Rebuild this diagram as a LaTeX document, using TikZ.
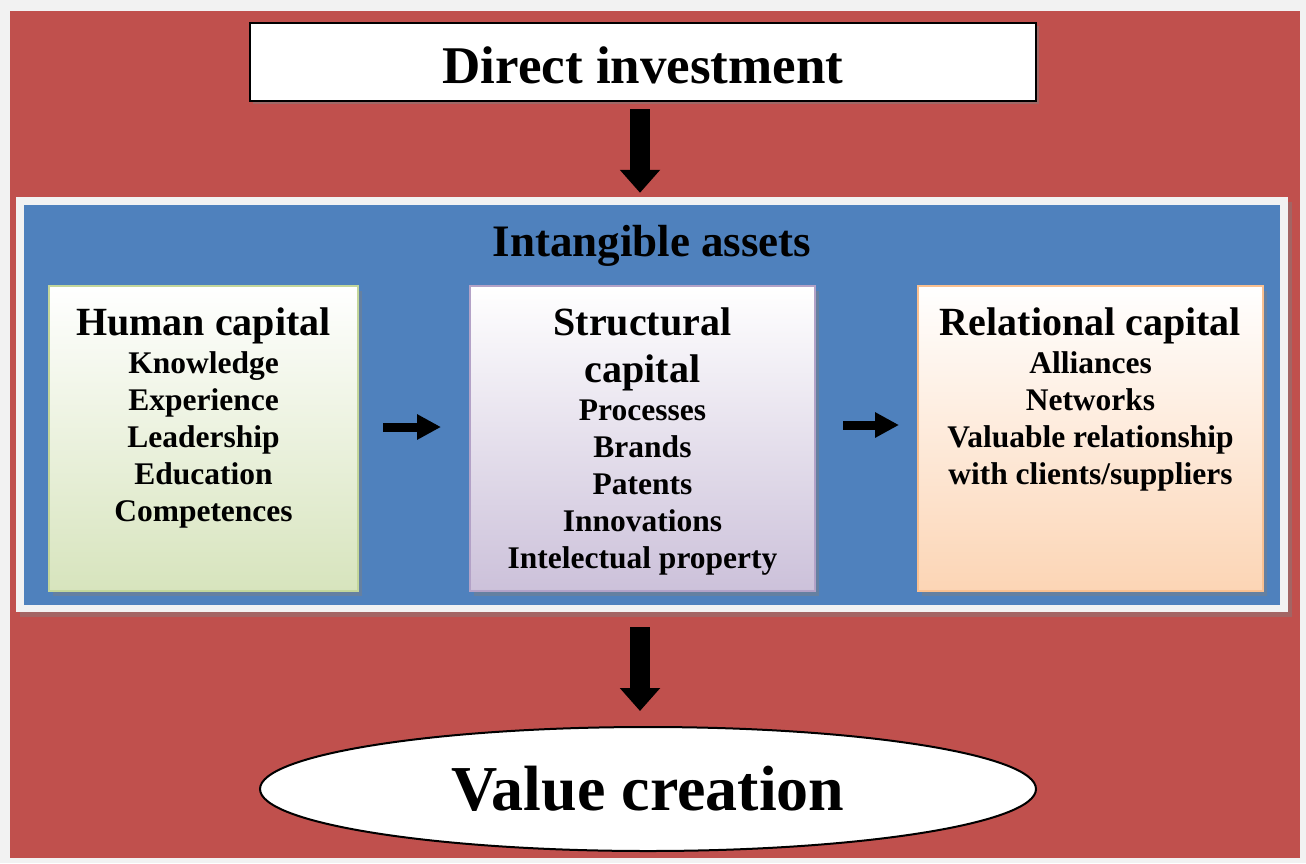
\documentclass[tikz,border=0pt]{standalone}
\usepackage{fontspec}
\setmainfont{Liberation Serif}
\usetikzlibrary{shapes.geometric,shadows,arrows.meta}

\definecolor{bgred}{HTML}{C0504D}
\definecolor{bgblue}{HTML}{4F81BD}
\definecolor{paper}{HTML}{F2F2F2}
\definecolor{greenfill}{HTML}{D7E4BD}
\definecolor{greenline}{HTML}{C3D69B}
\definecolor{lilacfill}{HTML}{CCC1DA}
\definecolor{lilacline}{HTML}{B3A2C7}
\definecolor{peachfill}{HTML}{FCD5B5}
\definecolor{peachline}{HTML}{FAC090}

\begin{document}
\begin{tikzpicture}[x=1pt, y=-1pt,
    capbox/.style 2 args={draw=#2, line width=2pt, top color=white, bottom color=#1,
      minimum height=305pt, drop shadow={shadow xshift=4pt, shadow yshift=-5pt, opacity=.45}},
    captext/.style={anchor=north, inner sep=0pt, align=center,
      font=\bfseries\fontsize{31.5}{37}\selectfont},
    bigarrow/.style={line width=20pt, -{Triangle[width=39pt, length=23pt]}},
    smallarrow/.style={line width=9pt, -{Triangle[width=24pt, length=24pt]}},
  ]
  \useasboundingbox (0,0) rectangle (1306,863);

  % Background
  \fill[paper] (0,0) rectangle (1306,863);
  \fill[bgred] (10,11) rectangle (1300,858);

  % Axis of the two vertical arrows
  \coordinate (axis) at (640,0);

  % Top box
  \node[draw=black, line width=2pt, fill=white, minimum width=786pt, minimum height=78pt,
    text height=43pt, drop shadow={shadow xshift=3pt, shadow yshift=-3pt, opacity=.5},
    font=\bfseries\fontsize{53}{53}\selectfont] (direct) at (643,62) {Direct investment};

  % Frame around the intangible assets
  \node[fill=paper, minimum width=1272pt, minimum height=415pt, inner sep=0pt,
    drop shadow={shadow xshift=4pt, shadow yshift=-5pt, opacity=.45}] (frame) at (652,404.5) {};
  \node[fill=bgblue, minimum width=1256pt, minimum height=400pt, inner sep=0pt] (inner) at (652,405) {};
  \node[font=\bfseries\fontsize{45}{45}\selectfont, inner sep=0pt] (assets) at (652,246) {Intangible assets};

  % The three kinds of capital
  \node[capbox={greenfill}{greenline}, minimum width=309pt] (human) at (203.5,438.5) {};
  \node[capbox={lilacfill}{lilacline}, minimum width=345pt] (structural) at (642.5,438.5) {};
  \node[capbox={peachfill}{peachline}, minimum width=345pt] (relational) at (1090.5,438.5) {};

  \node[captext] (humantext) at ([yshift=-23pt]human.north)
    {{\fontsize{40}{40}\selectfont Human capital}\\[1pt]
     Knowledge\\ Experience\\ Leadership\\ Education\\ Competences};
  \node[captext] (structuraltext) at ([yshift=-23pt]structural.north)
    {{\fontsize{40}{40}\selectfont Structural}\\[10pt]
     {\fontsize{40}{40}\selectfont capital}\\[1pt]
     Processes\\ Brands\\ Patents\\ Innovations\\ Intelectual property};
  \node[captext] (relationaltext) at ([yshift=-23pt]relational.north)
    {{\fontsize{40}{40}\selectfont Relational capital}\\[1pt]
     Alliances\\ Networks\\ Valuable relationship\\ with clients/suppliers};

  % Bottom ellipse
  \node[ellipse, draw=black, line width=2pt, fill=white, minimum width=776pt, minimum height=124pt,
    inner sep=0pt, font=\bfseries\fontsize{64}{64}\selectfont] (value) at (648,789) {Value creation};

  % Arrows
  \draw[bigarrow, shorten <=7pt, shorten >=4pt] (direct.south -| axis) -- (frame.north -| axis);
  \draw[bigarrow, shorten <=15pt, shorten >=15pt] (frame.south -| axis) -- (value.north -| axis);
  \draw[smallarrow, shorten <=24pt, shorten >=28pt]
    ([yshift=11.5pt]human.east) -- ([yshift=11.5pt]structural.west);
  \draw[smallarrow, shorten <=27pt, shorten >=18pt]
    ([yshift=13.5pt]structural.east) -- ([yshift=13.5pt]relational.west);
\end{tikzpicture}
\end{document}
